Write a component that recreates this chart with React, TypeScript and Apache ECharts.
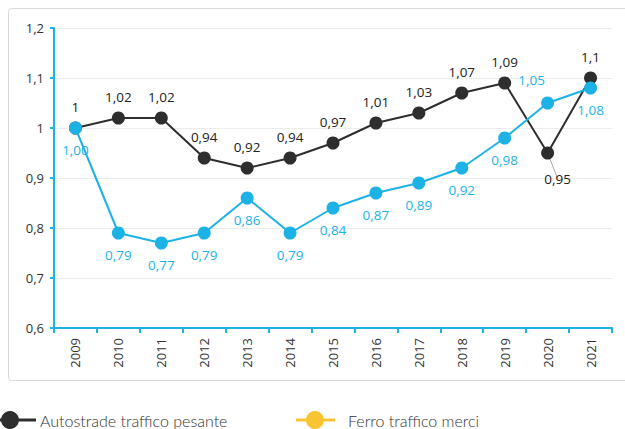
import React, { useEffect, useRef } from "react";
import * as echarts from "echarts";

const years = ["2009","2010","2011","2012","2013","2014","2015","2016","2017","2018","2019","2020","2021"];
const autostrade = [1, 1.02, 1.02, 0.94, 0.92, 0.94, 0.97, 1.01, 1.03, 1.07, 1.09, 0.95, 1.1];
const ferro = [1.0, 0.79, 0.77, 0.79, 0.86, 0.79, 0.84, 0.87, 0.89, 0.92, 0.98, 1.05, 1.08];
const seriesNames = ["Autostrade traffico pesante", "Ferro traffico merci"];

const DARK = "#2e2e2e";
const CYAN = "#1db2e6";
const YELLOW = "#f7c531";
const FONT = "'Open Sans', sans-serif";
const LEGEND_FONT = "Lato, sans-serif";

const comma = (v: number, d?: number) => (d === undefined ? String(v) : v.toFixed(d)).replace(".", ",");

export default function App() {
  const ref = useRef<HTMLDivElement>(null);
  useEffect(() => {
    const chart = echarts.init(ref.current!, null, { renderer: "svg" });
    const darkData = autostrade.map((v, i) => {
      const item: any = { value: v };
      if (i === 11) {
        item.label = { position: "bottom", distance: 12, offset: [10, 0] };
        item.labelLine = { show: true, lineStyle: { color: "#aaa", width: 1 } };
      }
      return item;
    });
    const cyanData = ferro.map((v, i) => {
      const item: any = { value: v };
      if (i === 11) item.label = { position: "top", distance: 10, offset: [-16, 0] };
      return item;
    });
    chart.setOption({
      animation: false,
      grid: { left: 54, right: 13, top: 28, bottom: 101 },
      graphic: [
        { type: "rect", shape: { x: 8.5, y: 8.5, width: 640, height: 372, r: 3 }, style: { fill: "none", stroke: "#d9d9d9", lineWidth: 1 }, z: -1 },
        { type: "line", shape: { x1: 0, y1: 420, x2: 36, y2: 420 }, style: { stroke: DARK, lineWidth: 3 } },
        { type: "circle", shape: { cx: 10, cy: 420, r: 9 }, style: { fill: DARK } },
        { type: "text", x: 40, y: 420, style: { text: seriesNames[0], fill: "#333", font: `300 16px ${LEGEND_FONT}`, verticalAlign: "middle" } },
        { type: "line", shape: { x1: 296, y1: 420, x2: 335, y2: 420 }, style: { stroke: YELLOW, lineWidth: 3 } },
        { type: "circle", shape: { cx: 315, cy: 420, r: 9 }, style: { fill: YELLOW } },
        { type: "text", x: 348, y: 420, style: { text: seriesNames[1], fill: "#333", font: `300 16px ${LEGEND_FONT}`, verticalAlign: "middle" } },
      ],
      xAxis: {
        type: "category",
        data: years,
        boundaryGap: true,
        axisLine: { lineStyle: { color: CYAN, width: 2 } },
        axisTick: { show: true, length: 5, lineStyle: { color: CYAN, width: 2 } },
        axisLabel: { rotate: 90, color: "#333", fontSize: 13, fontFamily: FONT, margin: 10 },
      },
      yAxis: {
        type: "value",
        min: 0.6,
        max: 1.2,
        interval: 0.1,
        axisLine: { show: true, lineStyle: { color: CYAN, width: 2 } },
        axisTick: { show: true, length: 4, lineStyle: { color: CYAN, width: 2 } },
        splitLine: { lineStyle: { color: "#ececec", width: 1 } },
        axisLabel: {
          color: "#333", fontSize: 13, fontFamily: FONT, margin: 10,
          formatter: (v: number) => comma(Math.round(v * 10) / 10),
        },
      },
      series: [
        {
          name: seriesNames[0],
          type: "line",
          data: darkData,
          symbol: "circle",
          symbolSize: 13,
          lineStyle: { color: DARK, width: 2 },
          itemStyle: { color: DARK },
          label: {
            show: true, position: "top", distance: 8, color: "#222", fontSize: 13.5, fontFamily: FONT,
            formatter: (p: any) => comma(p.value),
          },
          z: 2,
        },
        {
          name: seriesNames[1],
          type: "line",
          data: cyanData,
          symbol: "circle",
          symbolSize: 13,
          lineStyle: { color: CYAN, width: 2 },
          itemStyle: { color: CYAN },
          label: {
            show: true, position: "bottom", distance: 8, color: CYAN, fontSize: 13.5, fontFamily: FONT,
            formatter: (p: any) => comma(p.value, 2),
          },
          z: 3,
        },
      ],
    });
    return () => chart.dispose();
  }, []);
  return <div ref={ref} style={{ width: 625, height: 429, position: "absolute", left: 0, top: 0 }} />;
}
